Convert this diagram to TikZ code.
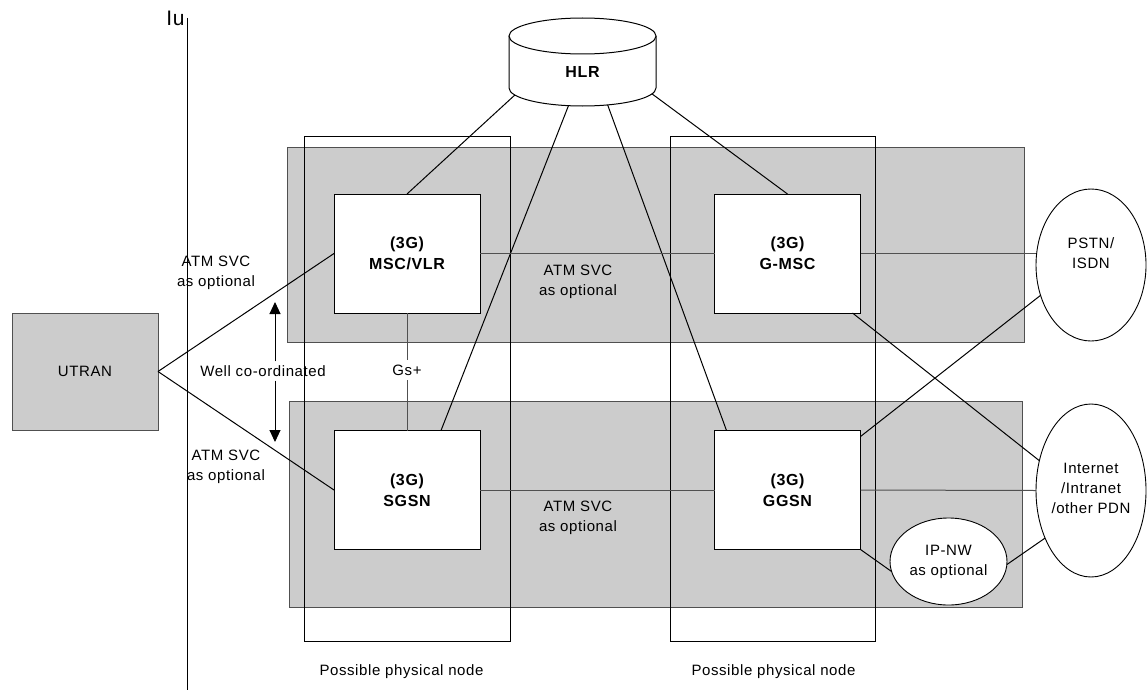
\documentclass[tikz,border=0pt]{standalone}
\usepackage{fontspec}
\setmainfont{Liberation Sans}[LetterSpace=4]
\usetikzlibrary{shapes.geometric,arrows.meta,calc}
\definecolor{shade}{RGB}{204,204,204}
\definecolor{edge}{RGB}{80,80,80}
\begin{document}
\begin{tikzpicture}[x=1pt,y=-1pt,
  every node/.style={inner sep=0pt, outer sep=0pt},
  txt/.style={font=\fontsize{15}{20}\selectfont, align=center},
  boldtxt/.style={font=\fontsize{16}{21}\selectfont\bfseries, align=center},
  shaded/.style={fill=shade, draw=edge, line width=1pt},
  phys/.style={draw=black, line width=0.9pt},
  box/.style={draw=black, fill=white, line width=0.9pt, minimum width=146pt, minimum height=119pt, boldtxt},
  conn/.style={draw=black, line width=1pt},
  hconn/.style={draw=edge, line width=1pt},
  ell/.style={ellipse, draw=black, fill=white, line width=0.9pt},
  arr/.style={-{Triangle[width=11pt,length=12pt]}, line width=1pt}
]
\useasboundingbox (0,0) rectangle (1147,693);
% Iu interface line
\coordinate (iutop) at (187,18);
\coordinate (iubot) at (187,690);
\draw[line width=1pt] (iutop) -- (iubot);
\node[font=\fontsize{21}{24}\selectfont] (iu) at (175.5,18) {Iu};
% shaded domains
\draw[shaded] (287,147) rectangle (1024,342);
\draw[shaded] (289,401) rectangle (1022,607);
% possible physical nodes
\draw[phys] (304,136) rectangle (510,641);
\draw[phys] (670,136) rectangle (875,641);
\node[txt] (pp1) at (401.5,672) {Possible physical node};
\node[txt] (pp2) at (773.5,672) {Possible physical node};
% HLR cylinder
\draw[line width=1pt, fill=white] (509,36) -- (509,88) arc[start angle=180, end angle=360, x radius=73.5pt, y radius=18pt] -- (656,36);
\draw[line width=1pt, fill=white] (582.5,36) ellipse[x radius=73.5pt, y radius=18pt];
\node[boldtxt] (hlr) at (582.5,72) {HLR};
\coordinate (hc) at (582.5,88);
\coordinate (h1) at ($(hc)+(203:73.5pt and 18pt)$);
\coordinate (h2) at ($(hc)+(259:73.5pt and 18pt)$);
\coordinate (h3) at ($(hc)+(290:73.5pt and 18pt)$);
\coordinate (h4) at ($(hc)+(341:73.5pt and 18pt)$);
% core boxes
\node[box] (msc) at (407,253.5) {(3G)\\MSC/VLR};
\node[box] (gmsc) at (787.5,253.5) {(3G)\\G-MSC};
\node[box] (sgsn) at (407,490) {(3G)\\SGSN};
\node[box] (ggsn) at (787.5,490) {(3G)\\GGSN};
% UTRAN
\node[draw=edge, fill=shade, line width=1pt, minimum width=146pt, minimum height=117pt, txt] (utran) at (85,371.5) {UTRAN};
% external networks
\node[ell, minimum width=110pt, minimum height=152pt] (pstn) at (1091,265) {};
\node[ell, minimum width=110pt, minimum height=173pt] (inet) at (1091,490.5) {};
\node[ell, minimum width=117pt, minimum height=87pt] (ipnw) at (948.5,561.5) {};
\node[txt] (pstnt) at (1091,253) {PSTN/\\ISDN};
\node[txt] (inett) at (1091,488) {Internet\\/Intranet\\/other PDN};
\node[txt] (ipnwt) at (948.5,561.5) {IP-NW\\as optional};
% HLR connectors
\draw[conn] (h1) -- (msc.north);
\draw[conn] (h2) -- ($(sgsn.north west)+(107,0)$);
\draw[conn] (h3) -- ($(ggsn.north west)+(12,0)$);
\draw[conn] (h4) -- (gmsc.north);
% horizontal connectors
\draw[hconn] (msc.east) -- (gmsc.west);
\draw[hconn] (sgsn.east) -- (ggsn.west);
\draw[hconn] (gmsc.east) -- (gmsc.east -| pstn.west);
\draw[hconn] (ggsn.east) -- (inet.west);
% Gs+
\draw[hconn] (msc.south) -- (sgsn.north);
\node[txt, fill=white, inner xsep=1pt, inner ysep=5pt] (gs) at (407,370) {Gs+};
% cross connectors
\draw[conn] ($(gmsc.south east)+(-8,0)$) -- (inet.150);
\draw[conn] ($(ggsn.north east)+(0,6)$) -- (pstn.211);
\draw[conn] (ggsn.south east) -- (ipnw.190);
\draw[conn] (ipnw.-3) -- (inet.226);
% UTRAN connectors
\draw[conn] (utran.east) -- (msc.west);
\draw[conn] (utran.east) -- (sgsn.west);
% labels
\node[txt] (l1) at (216,273) {ATM SVC\\as optional};
\node[txt] (l2) at (226,467) {ATM SVC\\as optional};
\node[txt] (l3) at (578,282) {ATM SVC\\as optional};
\node[txt] (l4) at (578,518) {ATM SVC\\as optional};
% well co-ordinated
\node[txt, inner sep=4pt] (wc) at (263,371) {Well co-ordinated};
\coordinate (wctop) at (275,302);
\coordinate (wcbot) at (275,442);
\draw[arr] (wc.north -| wctop) -- (wctop);
\draw[arr] (wc.south -| wcbot) -- (wcbot);
\end{tikzpicture}
\end{document}
